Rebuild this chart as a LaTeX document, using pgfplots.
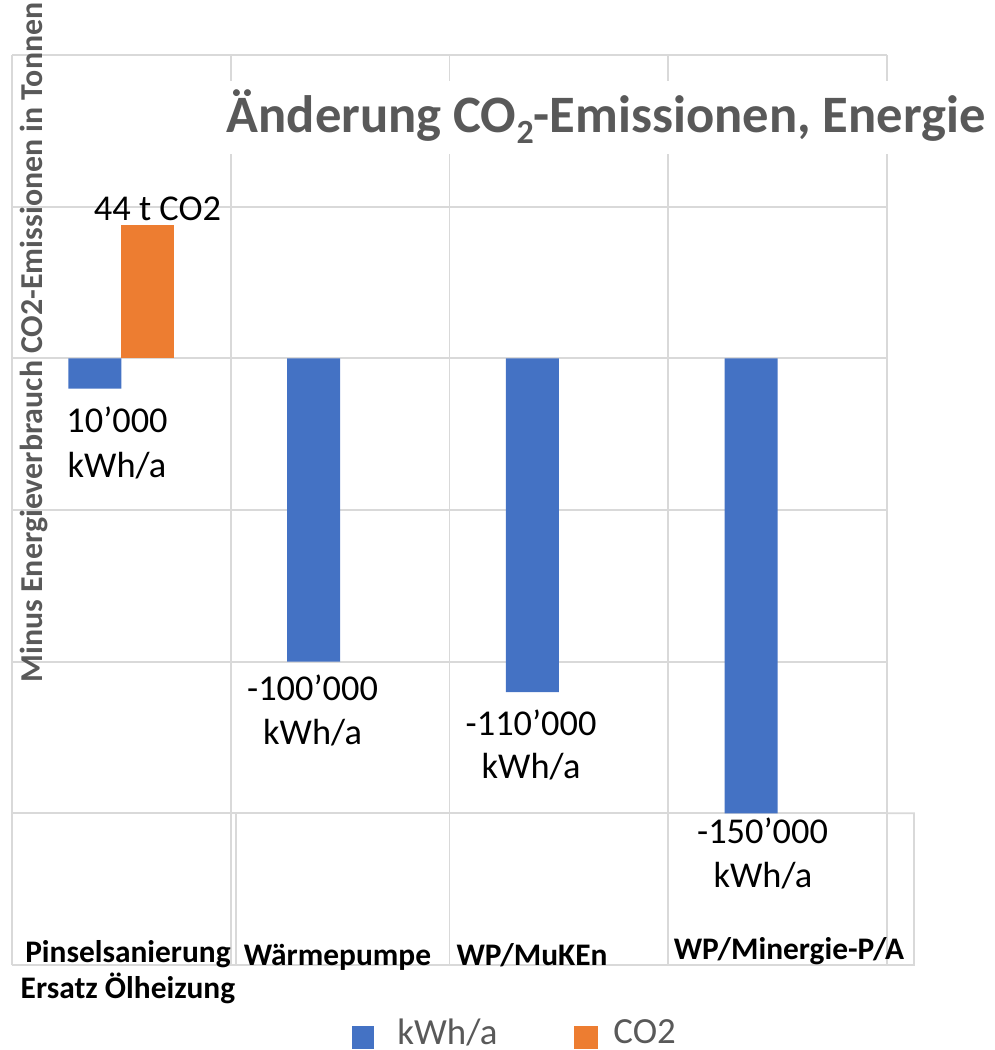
\documentclass[border=0pt]{standalone}
\usepackage{pgfplots}
\pgfplotsset{compat=1.18}
\usepackage{fontspec}
\setmainfont{Carlito}
\definecolor{bblue}{HTML}{4472C4}
\definecolor{borange}{HTML}{ED7D31}
\definecolor{ggrid}{HTML}{D9D9D9}
\definecolor{gtext}{HTML}{595959}
\newcommand{\lbl}{\fontsize{36.5}{44}\selectfont}
\newcommand{\catf}{\bfseries\fontsize{31.5}{35}\selectfont}
\begin{document}
\begin{tikzpicture}
\useasboundingbox (0,0) rectangle (995bp,-1050bp);
\begin{axis}[
  at={(12bp,-55bp)}, anchor=north west,
  scale only axis, width=875bp, height=910bp,
  xmin=-0.5, xmax=3.5, ymin=-200000, ymax=100000,
  axis line style={draw=none},
  xtick={-0.5,0.5,1.5,2.5,3.5}, xticklabels={},
  ytick={-200000,-150000,-100000,-50000,0,50000,100000}, yticklabels={},
  scaled y ticks=false,
  major tick length=0pt,
  xmajorgrids, ymajorgrids,
  grid style={ggrid, line width=1.8bp},
  extra x ticks={0.03,0.988,1.877,3.052},
  extra x tick labels={{\raisebox{-43bp}{\begin{tabular}[b]{@{}c@{}}Pinselsanierung\\Ersatz Ölheizung\end{tabular}}},{\raisebox{-10bp}{Wärmepumpe}},{\raisebox{-10bp}{WP/MuKEn}},{\raisebox{-4bp}{WP/Minergie-P/A}}},
  extra x tick style={grid=none},
  xticklabel style={font=\catf, text=black, anchor=base, yshift=10bp, inner sep=0pt},
  ybar, bar width=53bp,
  clip=false,
  title={Änderung CO\raisebox{-0.22em}{\fontsize{34}{34}\selectfont 2}-Emissionen, Energie},
  title style={at={(axis description cs:0.679,0.9085)}, anchor=base, font=\bfseries\fontsize{52.8}{60}\selectfont, text=gtext, fill=white, inner xsep=8bp, inner ysep=6bp, text height=45bp, text depth=16bp},
  ylabel={Minus Energieverbrauch CO2-Emissionen in Tonnen},
  ylabel style={at={(axis description cs:0.0343,0.684)}, anchor=base, font=\bfseries\fontsize{32}{35}\selectfont, text=gtext, inner sep=0pt},
  legend style={at={(axis description cs:0.575,-0.0745)}, anchor=center, draw=none, fill=none, legend columns=2, font=\fontsize{37}{40}\selectfont, text=gtext, /tikz/every even column/.append style={column sep=75bp}},
]
\addplot[fill=bblue, draw=none, bar shift=-26.5bp,
  legend image code/.code={\fill[bblue] (0bp,-17bp) rectangle (22bp,6bp);}]
  coordinates {(0,-10000) (1,-100000) (2,-110000) (3,-150000)};
\addlegendentry{\hspace*{21bp}kWh/a}
\addplot[fill=borange, draw=none, bar shift=26.5bp,
  legend image code/.code={\fill[borange] (0bp,-17bp) rectangle (24bp,6bp);}]
  coordinates {(0,44000)};
\addlegendentry{\hspace*{13bp}CO2}
% data labels
\node[font=\lbl, anchor=base] at (axis cs:-0.02,-24286) {10’000};
\node[font=\lbl, anchor=base] at (axis cs:-0.02,-39121) {kWh/a};
\node[font=\lbl, anchor=base] at (axis cs:0.165,45604) {44 t CO2};
\node[font=\lbl, anchor=base] at (axis cs:0.874,-112637) {-100’000};
\node[font=\lbl, anchor=base] at (axis cs:0.874,-127143) {kWh/a};
\node[font=\lbl, anchor=base] at (axis cs:1.873,-124176) {-110’000};
\node[font=\lbl, anchor=base] at (axis cs:1.873,-138352) {kWh/a};
\node[font=\lbl, anchor=base] at (axis cs:2.931,-159780) {-150’000};
\node[font=\lbl, anchor=base] at (axis cs:2.933,-174285) {kWh/a};
% table box extensions
\draw[ggrid, line width=1.8bp] (axis cs:3.5,-150000) -- ++(27bp,0bp) -- ++(0bp,-151.7bp) -- (axis cs:3.5,-200000);
\draw[ggrid, line width=1.8bp] (axis cs:0.5,-150000) ++(5bp,0bp) -- ++(0bp,-151.7bp);
\end{axis}
\end{tikzpicture}
\end{document}
